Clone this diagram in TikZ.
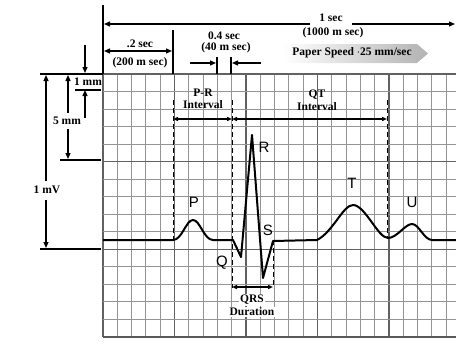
\documentclass[tikz,border=0pt]{standalone}
\usepackage{fontspec}
\setmainfont{Liberation Serif}
\newfontfamily\wavefont{Liberation Sans}
\usetikzlibrary{arrows.meta}
\tikzset{
  ann/.style={font=\bfseries\fontsize{11.5}{12}\selectfont, inner sep=0.5pt},
  wlab/.style={font=\wavefont\fontsize{15}{16}\selectfont, inner sep=0.5pt},
  dimarrow/.style={line width=1.3pt, -{Triangle[length=6pt,width=5pt]}},
  dimboth/.style={line width=1.3pt, {Triangle[length=6pt,width=5pt]}-{Triangle[length=6pt,width=5pt]}},
  intarrow/.style={line width=1.3pt, {Triangle[length=5pt,width=4pt]}-{Triangle[length=5pt,width=4pt]}},
  minorline/.style={line width=1.1pt, draw=black!42},
  majorline/.style={line width=1.4pt, draw=black!62},
  dashline/.style={line width=1pt, dash pattern=on 5pt off 3pt},
  refline/.style={line width=1.5pt},
  trace/.style={line width=2pt, line join=round},
}
\begin{document}
\begin{tikzpicture}[x=1pt,y=-1pt]
\useasboundingbox (0,0) rectangle (456,348);
\clip (0,0) rectangle (456,348);
% grid
\foreach \i in {0,...,25}{
  \pgfmathsetmacro{\gx}{103+\i*14.3}
  \pgfmathtruncatemacro{\gm}{mod(\i,5)}
  \ifnum\gm=0
    \draw[majorline] (\gx,74) -- (\gx,337);
  \else
    \draw[minorline] (\gx,74) -- (\gx,337);
  \fi
}
\foreach \j in {0,...,15}{
  \pgfmathsetmacro{\gy}{74+\j*17.53}
  \pgfmathtruncatemacro{\gm}{mod(\j,5)}
  \ifnum\gm=0
    \draw[majorline] (103,\gy) -- (456,\gy);
  \else
    \draw[minorline] (103,\gy) -- (456,\gy);
  \fi
}
\draw[line width=2pt, draw=black!65] (103,337) -- (456,337);

% top reference lines
\coordinate (t0a) at (103,5);
\coordinate (t0b) at (103,74);
\coordinate (t1a) at (173,30);
\coordinate (t1b) at (173,74);
\draw[line width=1.5pt] (t0a) -- (t0b);
\draw[line width=1.5pt] (t1a) -- (t1b);

% 1 sec
\node[ann] (onesec) at (331,18) {1 sec};
\node[ann] (onesecms) at (333,33) {(1000 m sec)};
\coordinate (ls) at (104,24);
\coordinate (le) at (455,24);
\coordinate (lsa) at (310,24);
\coordinate (lsb) at (352,24);
\draw[dimarrow] (lsa) -- (ls);
\draw[dimarrow] (lsb) -- (le);

% .2 sec
\node[ann] (twosec) at (140,44) {.2 sec};
\node[ann] (twosecms) at (140,63) {(200 m sec)};
\coordinate (ta) at (104,51);
\coordinate (tb) at (172,51);
\draw[dimboth] (ta) -- (tb);

% 0.4 sec
\node[ann] (fsec) at (224,36) {0.4 sec};
\node[ann] (fsecms) at (226,48) {(40 m sec)};
\coordinate (ka) at (217,57);
\coordinate (kb) at (217,74);
\coordinate (kc) at (231,57);
\coordinate (kd) at (231,74);
\draw[line width=1.3pt] (ka) -- (kb);
\draw[line width=1.3pt] (kc) -- (kd);
\coordinate (ra) at (190,63);
\coordinate (ra2) at (216,63);
\coordinate (rb) at (261,63);
\coordinate (rb2) at (232,63);
\draw[dimarrow] (ra) -- (ra2);
\draw[dimarrow] (rb) -- (rb2);

% paper speed
\shade[left color=white, right color=black!30] (283,44) -- (417,44) -- (428,53.5) -- (417,63) -- (283,63) -- cycle;
\node[ann] (speed) at (352,53) {Paper Speed $\cdot$25 mm/sec};

% left references
\coordinate (h0a) at (40,74);
\coordinate (h0b) at (103,74);
\draw[refline] (h0a) -- (h0b);
\coordinate (h1a) at (75,90);
\coordinate (h1b) at (101,90);
\draw[line width=1.2pt] (h1a) -- (h1b);
\coordinate (h5a) at (60,160);
\coordinate (h5b) at (101,160);
\draw[line width=1.2pt] (h5a) -- (h5b);
\coordinate (hva) at (40,249);
\coordinate (hvb) at (101,249);
\draw[line width=2pt] (hva) -- (hvb);

% 1 mm
\node[ann] (onemm) at (88,82) {1 mm};
\coordinate (m1a) at (85,45);
\coordinate (m1b) at (85,73);
\coordinate (m1c) at (85,118);
\coordinate (m1d) at (85,90);
\draw[dimarrow] (m1a) -- (m1b);
\draw[dimarrow] (m1c) -- (m1d);

% 5 mm
\node[ann] (fivemm) at (67,121) {5 mm};
\coordinate (m5a) at (68,113);
\coordinate (m5b) at (68,75);
\coordinate (m5c) at (68,129);
\coordinate (m5d) at (68,159);
\draw[dimarrow] (m5a) -- (m5b);
\draw[dimarrow] (m5c) -- (m5d);

% 1 mV
\node[ann] (onemv) at (47,190) {1 mV};
\coordinate (mva) at (46,181);
\coordinate (mvb) at (46,75);
\coordinate (mvc) at (46,200);
\coordinate (mvd) at (46,248);
\draw[line width=1.2pt, -{Triangle[length=6pt,width=5pt]}] (mva) -- (mvb);
\draw[line width=1.2pt, -{Triangle[length=6pt,width=5pt]}] (mvc) -- (mvd);

% dashed guides
\coordinate (d1a) at (173,100);
\coordinate (d1b) at (173,240);
\coordinate (d2a) at (232,100);
\coordinate (d2b) at (232,288);
\coordinate (d3a) at (273,240);
\coordinate (d3b) at (273,288);
\coordinate (d4a) at (387,100);
\coordinate (d4b) at (387,238);
\draw[dashline] (d1a) -- (d1b);
\draw[dashline] (d2a) -- (d2b);
\draw[dashline] (d3a) -- (d3b);
\draw[dashline] (d4a) -- (d4b);

% interval arrows
\coordinate (pra) at (173,119);
\coordinate (prb) at (232,119);
\coordinate (qta) at (232,119);
\coordinate (qtb) at (387,119);
\coordinate (qrsa) at (232,287);
\coordinate (qrsb) at (273,287);
\draw[intarrow] (pra) -- (prb);
\draw[intarrow] (qta) -- (qtb);
\draw[intarrow] (qrsa) -- (qrsb);

\node[ann] (prl) at (203,93) {P-R};
\node[ann] (prl2) at (203,105) {Interval};
\node[ann] (qtl) at (317,95) {QT};
\node[ann] (qtl2) at (317,107) {Interval};
\node[ann, fill=white, inner sep=1pt] (qrsl) at (252,300) {QRS};
\node[ann, fill=white, inner sep=1pt] (qrsl2) at (252,312) {Duration};

% ECG trace
\draw[trace] (103,240) -- (173,240)
  .. controls (182,240) and (186,220) .. (193,220)
  .. controls (200,220) and (204,240) .. (213,240)
  -- (233,240) -- (241,257) -- (252,135) -- (263,278) -- (273,241) -- (317,240)
  .. controls (333,232) and (343,205) .. (353,205)
  .. controls (365,205) and (378,238) .. (388,238)
  .. controls (397,238) and (405,224) .. (412,224)
  .. controls (419,224) and (424,240) .. (432,240)
  -- (456,240);

% wave labels
\node[wlab] (lp) at (194,202) {P};
\node[wlab] (lq) at (222,263) {Q};
\node[wlab] (lr) at (264,147) {R};
\node[wlab] (ls2) at (268,230) {S};
\node[wlab] (lt) at (352,183) {T};
\node[wlab] (lu) at (412,202) {U};
\end{tikzpicture}
\end{document}
